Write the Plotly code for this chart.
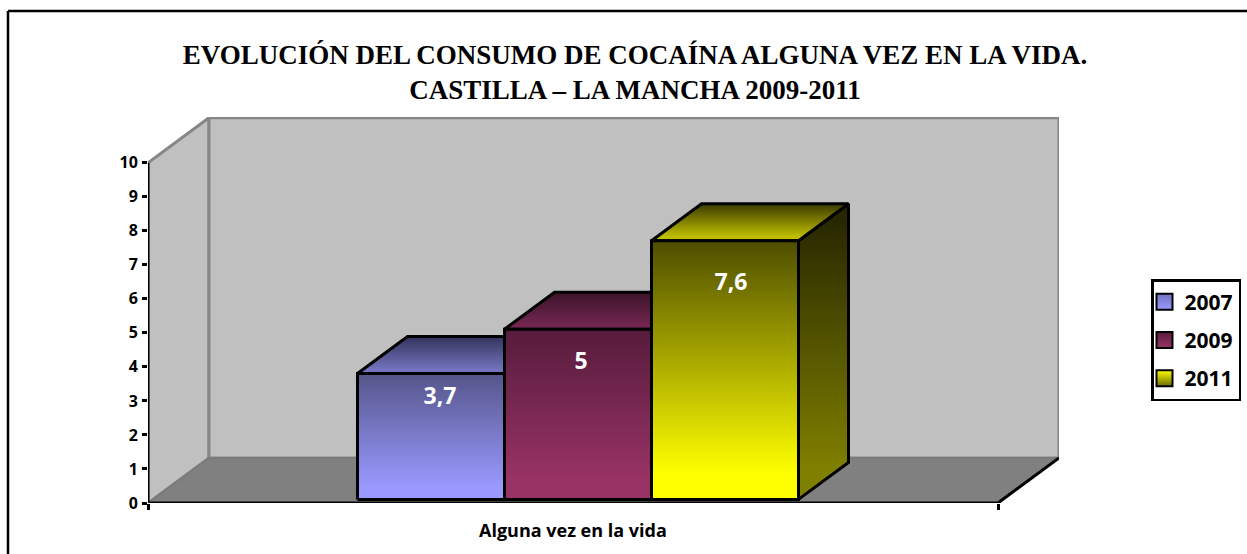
import plotly.graph_objects as go

# ---- data ----
YEARS = ["2007", "2009", "2011"]
VALUES = [3.7, 5, 7.6]
VALUE_LABELS = ["3,7", "5", "7,6"]
CATEGORY = "Alguna vez en la vida"
Y_TICKS = list(range(0, 11))
TITLE = "EVOLUCIÓN DEL CONSUMO DE COCAÍNA ALGUNA VEZ EN LA VIDA.<br>CASTILLA – LA MANCHA 2009-2011"

# ---- style ----  (gradient colours: top, bottom)
FRONT = [("#55558a", "#9999ff"), ("#561c3c", "#993366"), ("#4d4d00", "#ffff00")]
TOP = [("#33335c", "#7373bf"), ("#3a1328", "#732650"), ("#3a3a00", "#bfbf00")]
SIDE = [("#222244", "#4d4d80"), ("#260d1a", "#4d1a33"), ("#222200", "#808000")]
LEGEND = [("#7272c0", "#9999ff"), ("#561c3c", "#993366"), ("#ffff00", "#6b6b00")]
WALL, FLOOR, GREY = "#c0c0c0", "#808080", "#868686"

PX_X, PX_Y = 850.0, 34.0       # pixels per data unit
L, R, T, B = 148, 1059, 117, 502.7
DX, DY = 61 / PX_X, 45 / PX_Y  # chart depth
BW = 147 / PX_X                # bar width
BX, BY = 50 / PX_X, 37 / PX_Y  # bar depth
OX, OY = 5 / PX_X, 3.6 / PX_Y  # bar offset from front of floor
LABEL_DROP = [0.73, 1.0, 1.28]
LABEL_SHIFT = [9 / PX_X, 3 / PX_X, 6 / PX_X]

START = 0.5 - 1.5 * BW + OX


def poly(xs, ys, fill=None, grad=None, lc="black", lw=3):
    kw = dict(fillcolor=fill) if fill else dict(
        fillgradient=dict(type="vertical",
                          colorscale=[[0, grad[1]], [0.1, grad[1]], [1, grad[0]]]))
    return go.Scatter(x=xs + xs[:1], y=ys + ys[:1], mode="lines", fill="toself",
                      line=dict(color=lc, width=lw), hoverinfo="skip",
                      showlegend=False, cliponaxis=False, **kw)


def line(xs, ys, color="black", w=3):
    return go.Scatter(x=xs, y=ys, mode="lines", line=dict(color=color, width=w),
                      hoverinfo="skip", showlegend=False, cliponaxis=False)


fig = go.Figure()
YMAX = Y_TICKS[-1]
# walls and floor
fig.add_trace(poly([0, DX, DX, 0], [YMAX, YMAX + DY, DY, 0], fill=WALL, lc=GREY))
fig.add_trace(poly([DX, 1 + DX, 1 + DX, DX], [DY, DY, YMAX + DY, YMAX + DY], fill=WALL, lc=GREY))
fig.add_trace(poly([0, 1, 1 + DX, DX], [0, 0, DY, DY], fill=FLOOR, lc="#787878", lw=1.5))
fig.add_trace(line([1, 1 + DX], [0, DY]))
fig.add_trace(line([0, 0], [0, YMAX]))
fig.add_trace(line([0, 1], [0, 0]))

# bars
for i, v in enumerate(VALUES):
    x0 = START + i * BW
    x1 = x0 + BW
    top = OY + v
    fig.add_trace(poly([x1, x1 + BX, x1 + BX, x1], [OY, OY + BY, top + BY, top], grad=SIDE[i]))
    fig.add_trace(poly([x0, x1, x1 + BX, x0 + BX], [top, top, top + BY, top + BY], grad=TOP[i]))
    fig.add_trace(poly([x0, x1, x1, x0], [OY, OY, top, top], grad=FRONT[i]))

# value labels
fig.add_trace(go.Scatter(
    x=[START + (i + 0.5) * BW + LABEL_SHIFT[i] for i in range(3)],
    y=[OY + v - LABEL_DROP[i] for i, v in enumerate(VALUES)],
    mode="text", text=VALUE_LABELS, textposition="middle center",
    textfont=dict(family="Open Sans", size=23, color="white", weight=700),
    hoverinfo="skip", showlegend=False, cliponaxis=False))

# legend entries
for i, year in enumerate(YEARS):
    fig.add_trace(go.Scatter(
        x=[None], y=[None], mode="markers", name=year, legendgroup=year,
        marker=dict(symbol="square", size=16, color=LEGEND[i][0],
                    gradient=dict(type="vertical", color=LEGEND[i][1]),
                    line=dict(color="black", width=2))))

W, H = R - L, B - T
fig.update_layout(
    width=1247, height=554, paper_bgcolor="white", plot_bgcolor="rgba(0,0,0,0)",
    margin=dict(l=L, r=1247 - R, t=T, b=554 - B, pad=0),
    title=dict(text=TITLE, x=635 / 1247, xanchor="center", xref="container",
               y=1 - 64 / 554, yanchor="middle", yref="container",
               font=dict(family="Liberation Serif", size=27, color="black", weight=700)),
    xaxis=dict(range=[0, W / PX_X], tickvals=[0, 1], ticktext=["", ""], ticks="outside",
               ticklen=6, tickwidth=3, tickcolor="black", showgrid=False, zeroline=False,
               showline=False),
    yaxis=dict(range=[0, H / PX_Y], tickvals=Y_TICKS, ticks="outside", ticklen=5,
               tickwidth=3, tickcolor="black", showgrid=False, zeroline=False, showline=False,
               ticklabelstandoff=1,
               tickfont=dict(family="Open Sans", size=16, color="black", weight=700)),
    legend=dict(x=1151 / 1247, y=1 - 279 / 554, xref="container", yref="container",
                xanchor="left", yanchor="top", indentation=-9,
                bgcolor="white", bordercolor="black", borderwidth=2.5, tracegroupgap=8,
                itemwidth=30, font=dict(family="Open Sans", size=21, color="black", weight=700),
                itemclick=False, itemdoubleclick=False),
    annotations=[dict(text=CATEGORY, x=0.5, y=0, xref="x", yref="y", yshift=-27, showarrow=False,
                      font=dict(family="Open Sans", size=18, color="black", weight=700))],
    shapes=[dict(type="line", xref="paper", yref="paper", x0=(8 - L) / W, x1=(8 - L) / W,
                 y0=(B - 554) / H, y1=(B - 11) / H, line=dict(color="black", width=2.5)),
            dict(type="line", xref="paper", yref="paper", x0=(8 - L) / W, x1=(1247 - L) / W,
                 y0=(B - 11) / H, y1=(B - 11) / H, line=dict(color="black", width=2.5))],
)

fig.write_html("out.html", config={"displayModeBar": False},
               post_script="document.body.style.margin='0';document.body.style.overflow='hidden';")
